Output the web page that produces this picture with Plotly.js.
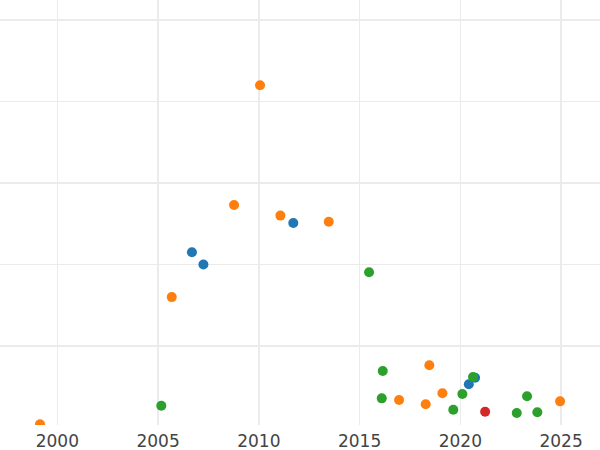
<!DOCTYPE html>
<html>
<head>
<meta charset="utf-8">
<script src="https://cdn.plot.ly/plotly-3.0.1.min.js"></script>
<style>html,body{margin:0;padding:0;background:#fff;}#chart{width:600px;height:450px;}</style>
</head>
<body>
<div id="chart"></div>
<script>
// Series A (blue)
var blueYears = [2006.68, 2007.25, 2011.71, 2020.42, 2020.73];
var blueValues = [215, 200, 251, 53, 61];
// Series B (orange)
var orangeYears = [1999.14, 2005.68, 2008.77, 2010.06, 2011.07, 2013.47, 2016.96, 2018.28, 2018.46, 2019.11, 2024.95];
var orangeValues = [4, 160, 273, 420, 260, 252.5, 33.7, 28.5, 76.3, 42, 32.1];
// Series C (green)
var greenYears = [2005.16, 2015.47, 2016.10, 2016.15, 2019.65, 2020.10, 2020.63, 2022.80, 2023.31, 2023.82];
var greenValues = [26.7, 190.4, 35.8, 69.3, 21.8, 41.1, 62, 17.8, 38.3, 18.7];
// Series D (red)
var redYears = [2021.23];
var redValues = [19.4];

var xTicks = [2000, 2005, 2010, 2015, 2020, 2025];
var xTickLabels = ['2000', '2005', '2010', '2015', '2020', '2025'];

function series(x, y, color) {
  return {x: x, y: y, type: 'scatter', mode: 'markers',
    marker: {color: color, size: 10}, hoverinfo: 'x+y'};
}

var data = [
  series(blueYears, blueValues, '#1f77b4'),
  series(orangeYears, orangeValues, '#ff7f0e'),
  series(greenYears, greenValues, '#2ca02c'),
  series(redYears, redValues, '#d62728')
];

var layout = {
  width: 600, height: 450,
  margin: {l: 0, r: 0, t: 0, b: 25, pad: 0},
  paper_bgcolor: '#fff', plot_bgcolor: '#fff',
  showlegend: false,
  font: {family: 'DejaVu Sans, sans-serif', color: '#444'},
  xaxis: {
    range: [1997.156, 2026.93],
    tickvals: xTicks, ticktext: xTickLabels,
    showgrid: true, gridcolor: '#ebebeb', gridwidth: 1.5,
    zeroline: false, showline: false, ticks: '',
    ticklabelstandoff: 4,
    tickfont: {size: 17, color: '#444'}
  },
  yaxis: {
    range: [3.1, 524.5],
    dtick: 100, tick0: 0,
    showgrid: true, gridcolor: '#ebebeb', gridwidth: 1.5,
    zeroline: false, showline: false, showticklabels: false, ticks: ''
  }
};

Plotly.newPlot('chart', data, layout, {displayModeBar: false, staticPlot: true});
</script>
</body>
</html>
